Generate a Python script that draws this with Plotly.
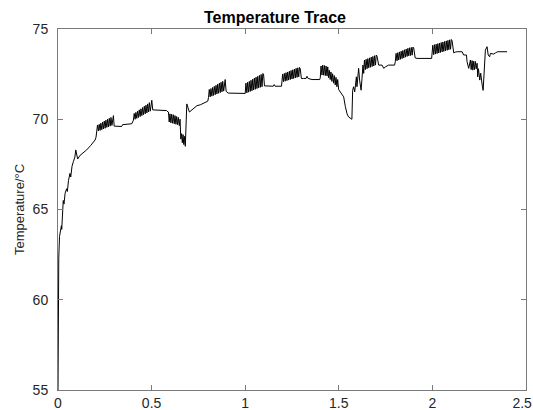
import plotly.graph_objects as go

# ---- data (time in arbitrary units, temperature in degC) ----
warmup_t = [0.000, 0.002, 0.004, 0.008, 0.014, 0.018, 0.020, 0.024, 0.028, 0.032, 0.038, 0.046,
            0.050, 0.056, 0.064, 0.068, 0.075, 0.082, 0.090, 0.095, 0.105, 0.118, 0.135, 0.153,
            0.175, 0.198, 0.203]
warmup_y = [55.0, 60.5, 62.3, 63.5, 63.8, 64.1, 63.9, 64.8, 65.5, 65.3, 65.9, 66.15,
            66.0, 66.6, 67.0, 66.8, 67.4, 67.65, 67.9, 68.3, 67.8, 68.0, 68.15, 68.3,
            68.55, 68.85, 69.0]

burst1_t = [0.207, 0.211, 0.216, 0.220, 0.225, 0.229, 0.234, 0.238, 0.243, 0.247, 0.252,
            0.256, 0.261, 0.265, 0.270, 0.274, 0.279, 0.283, 0.288, 0.292, 0.296]
burst1_y = [69.30, 69.68, 69.35, 69.72, 69.38, 69.78, 69.42, 69.84, 69.46, 69.90, 69.50,
            69.95, 69.55, 70.00, 69.58, 70.05, 69.62, 70.10, 69.66, 70.18, 70.20]

hold1_t = [0.300, 0.340, 0.345, 0.394]
hold1_y = [69.62, 69.60, 69.70, 69.75]

burst2_t = [0.403, 0.407, 0.412, 0.416, 0.421, 0.425, 0.430, 0.434, 0.439, 0.443, 0.448,
            0.452, 0.457, 0.461, 0.466, 0.470, 0.475, 0.479, 0.484, 0.488, 0.493, 0.497, 0.501]
burst2_y = [69.95, 70.32, 70.00, 70.38, 70.05, 70.45, 70.10, 70.52, 70.15, 70.58, 70.20,
            70.65, 70.25, 70.72, 70.30, 70.78, 70.35, 70.85, 70.40, 70.92, 70.45, 71.00, 71.05]

hold2_t = [0.506, 0.580, 0.588]
hold2_y = [70.52, 70.48, 70.40]

burst3_t = [0.590, 0.594, 0.598, 0.603, 0.607, 0.612, 0.616, 0.621, 0.625, 0.630, 0.634,
            0.639, 0.643, 0.648, 0.652, 0.656, 0.660, 0.664, 0.668, 0.672, 0.676, 0.680]
burst3_y = [70.40, 69.85, 70.30, 69.80, 70.28, 69.78, 70.25, 69.75, 70.20, 69.72, 70.15,
            69.70, 70.10, 69.65, 70.00, 68.90, 69.20, 68.70, 69.15, 68.60, 69.05, 68.50]

recover1_t = [0.688, 0.702, 0.724, 0.742, 0.760, 0.786, 0.800]
recover1_y = [70.85, 70.40, 70.60, 70.75, 70.80, 70.95, 71.00]

burst4_t = [0.804, 0.808, 0.813, 0.817, 0.822, 0.826, 0.831, 0.835, 0.840, 0.844, 0.849,
            0.853, 0.858, 0.862, 0.867, 0.871, 0.876, 0.880, 0.885, 0.889, 0.893]
burst4_y = [71.20, 71.65, 71.24, 71.70, 71.28, 71.76, 71.32, 71.82, 71.36, 71.88, 71.40,
            71.94, 71.44, 72.00, 71.48, 72.05, 71.52, 72.10, 71.56, 72.18, 72.20]

hold3_t = [0.898, 0.909, 0.999]
hold3_y = [71.55, 71.45, 71.43]

burst5_t = [1.000, 1.004, 1.009, 1.013, 1.018, 1.022, 1.027, 1.031, 1.036, 1.040, 1.045,
            1.049, 1.054, 1.058, 1.063, 1.067, 1.072, 1.076, 1.081, 1.085, 1.090, 1.094, 1.098]
burst5_y = [71.43, 72.00, 71.46, 72.05, 71.50, 72.10, 71.54, 72.16, 71.58, 72.22, 71.62,
            72.28, 71.66, 72.33, 71.70, 72.38, 71.74, 72.43, 71.77, 72.48, 71.80, 72.54, 72.50]

hold4_t = [1.103, 1.150, 1.155, 1.160, 1.194]
hold4_y = [71.85, 71.83, 71.92, 71.83, 71.83]

burst6_t = [1.196, 1.200, 1.205, 1.209, 1.214, 1.218, 1.223, 1.227, 1.232, 1.236, 1.241,
            1.245, 1.250, 1.254, 1.259, 1.263, 1.268, 1.272, 1.277, 1.281, 1.286, 1.290, 1.294]
burst6_y = [72.05, 72.50, 72.08, 72.54, 72.11, 72.58, 72.14, 72.62, 72.17, 72.66, 72.20,
            72.70, 72.23, 72.74, 72.26, 72.78, 72.29, 72.82, 72.32, 72.85, 72.35, 72.87, 72.80]

hold5_t = [1.300, 1.312, 1.325, 1.330, 1.336, 1.357, 1.398]
hold5_y = [72.26, 72.26, 72.26, 72.38, 72.26, 72.20, 72.20]

burst7_t = [1.401, 1.405, 1.410, 1.414, 1.419, 1.423, 1.428, 1.432, 1.437, 1.441, 1.445,
            1.449, 1.454, 1.458, 1.463, 1.467, 1.472, 1.476, 1.481, 1.485, 1.490, 1.494, 1.499]
burst7_y = [72.30, 72.95, 72.45, 73.00, 72.44, 72.98, 72.42, 72.95, 72.40, 72.90, 72.30,
            72.72, 72.20, 72.62, 72.10, 72.52, 72.00, 72.42, 71.90, 72.32, 71.80, 72.20, 71.65]

dip1_t = [1.517, 1.526, 1.535, 1.544, 1.552, 1.565, 1.570, 1.574, 1.579, 1.585, 1.594,
          1.597, 1.606, 1.611, 1.619, 1.624, 1.629, 1.633]
dip1_y = [71.33, 71.24, 70.70, 70.30, 70.13, 70.02, 70.00, 71.60, 71.80, 71.52, 72.35,
          71.80, 72.82, 72.17, 71.61, 72.26, 73.00, 72.54]

burst8_t = [1.637, 1.642, 1.646, 1.651, 1.655, 1.660, 1.664, 1.669, 1.673, 1.678, 1.682,
            1.687, 1.691, 1.696, 1.700, 1.704]
burst8_y = [73.28, 72.75, 73.32, 72.80, 73.36, 72.85, 73.40, 72.88, 73.44, 72.92, 73.48,
            72.95, 73.52, 73.00, 73.56, 73.50]

hold6_t = [1.713, 1.731, 1.740, 1.749, 1.766, 1.798]
hold6_y = [73.00, 73.00, 72.82, 72.90, 73.00, 73.00]

burst9_t = [1.802, 1.806, 1.811, 1.815, 1.820, 1.824, 1.829, 1.833, 1.838, 1.842, 1.847,
            1.851, 1.856, 1.860, 1.865, 1.869, 1.874, 1.878, 1.883, 1.887, 1.892, 1.896, 1.900]
burst9_y = [73.20, 73.65, 73.24, 73.69, 73.28, 73.73, 73.32, 73.77, 73.36, 73.81, 73.40,
            73.85, 73.44, 73.89, 73.48, 73.93, 73.51, 73.96, 73.53, 73.98, 73.55, 74.00, 73.95]

hold7_t = [1.908, 1.918, 1.996]
hold7_y = [73.40, 73.37, 73.37]

burst10_t = [1.998, 2.002, 2.007, 2.011, 2.016, 2.020, 2.025, 2.029, 2.034, 2.038, 2.043,
             2.047, 2.052, 2.056, 2.061, 2.065, 2.070, 2.074, 2.079, 2.083, 2.088, 2.092,
             2.097, 2.101, 2.105]
burst10_y = [73.55, 74.10, 73.58, 74.13, 73.61, 74.16, 73.64, 74.19, 73.67, 74.22, 73.70,
             74.25, 73.73, 74.28, 73.76, 74.31, 73.79, 74.34, 73.82, 74.37, 73.85, 74.40,
             73.88, 74.42, 74.35]

tail_t = [2.114, 2.122, 2.132, 2.159, 2.167, 2.182, 2.185, 2.194, 2.203, 2.207, 2.212,
          2.216, 2.221, 2.225, 2.230, 2.234, 2.239, 2.242, 2.246, 2.253, 2.258, 2.266,
          2.271, 2.283, 2.292, 2.298, 2.306, 2.310, 2.328, 2.337, 2.349, 2.399]
tail_y = [73.68, 73.72, 73.74, 73.74, 73.56, 73.56, 73.19, 72.82, 73.28, 72.75, 73.25,
          72.72, 73.22, 72.75, 73.20, 72.80, 73.10, 72.35, 72.80, 72.17, 72.55, 71.89,
          71.60, 73.83, 74.02, 73.56, 73.46, 73.65, 73.61, 73.68, 73.74, 73.74]

x_ticks = [0, 0.5, 1, 1.5, 2, 2.5]
# trailing no-break spaces nudge the last label left so it stays inside the window
x_tick_labels = ["0", "0.5", "1", "1.5", "2", "2.5\u00a0\u00a0"]
y_ticks = [55, 60, 65, 70, 75]
y_tick_labels = ["55", "60", "65", "70", "75"]

segments_t = [warmup_t, burst1_t, hold1_t, burst2_t, hold2_t, burst3_t, recover1_t, burst4_t,
              hold3_t, burst5_t, hold4_t, burst6_t, hold5_t, burst7_t, dip1_t, burst8_t,
              hold6_t, burst9_t, hold7_t, burst10_t, tail_t]
segments_y = [warmup_y, burst1_y, hold1_y, burst2_y, hold2_y, burst3_y, recover1_y, burst4_y,
              hold3_y, burst5_y, hold4_y, burst6_y, hold5_y, burst7_y, dip1_y, burst8_y,
              hold6_y, burst9_y, hold7_y, burst10_y, tail_y]

time_all = [v for seg in segments_t for v in seg]
temp_all = [v for seg in segments_y for v in seg]

FONT = "Liberation Sans, Arial, Helvetica, sans-serif"

fig = go.Figure()
fig.add_trace(go.Scatter(x=time_all, y=temp_all, mode="lines",
                         line=dict(color="black", width=1), showlegend=False,
                         hoverinfo="skip"))

axis_common = dict(showgrid=False, zeroline=False, showline=True, linecolor="#7a7a7a",
                   linewidth=1, mirror="ticks", ticks="inside", ticklen=5,
                   tickcolor="#7a7a7a", tickwidth=1, automargin=False,
                   ticklabeloverflow="allow",
                   tickfont=dict(family=FONT, size=14, color="#262626"))

fig.update_layout(
    width=533, height=410,
    margin=dict(l=58, r=7, t=29, b=20, autoexpand=False),
    paper_bgcolor="white", plot_bgcolor="white",
    font=dict(family=FONT, size=14, color="#262626"),
    title=dict(text="<b>Temperature Trace</b>", x=0.4637, xref="paper", xanchor="center",
               y=1 - 17 / 410, yref="container", yanchor="middle",
               font=dict(family=FONT, size=16, color="black")),
    xaxis=dict(range=[0, 2.5], tickvals=x_ticks, ticktext=x_tick_labels,
               ticklabelstandoff=0, **axis_common),
    yaxis=dict(range=[55, 75], tickvals=y_ticks, ticktext=y_tick_labels,
               ticklabelstandoff=6,
               title=dict(text="Temperature/°C", standoff=5,
                          font=dict(family=FONT, size=13, color="#262626")),
               **axis_common),
)

# remove the page's default 8px body margin so the figure fills the window exactly
fig.write_html("out.html",
               config={"displayModeBar": False, "staticPlot": True},
               post_script="document.body.style.margin='0px';"
                           "document.body.style.overflow='hidden';")
